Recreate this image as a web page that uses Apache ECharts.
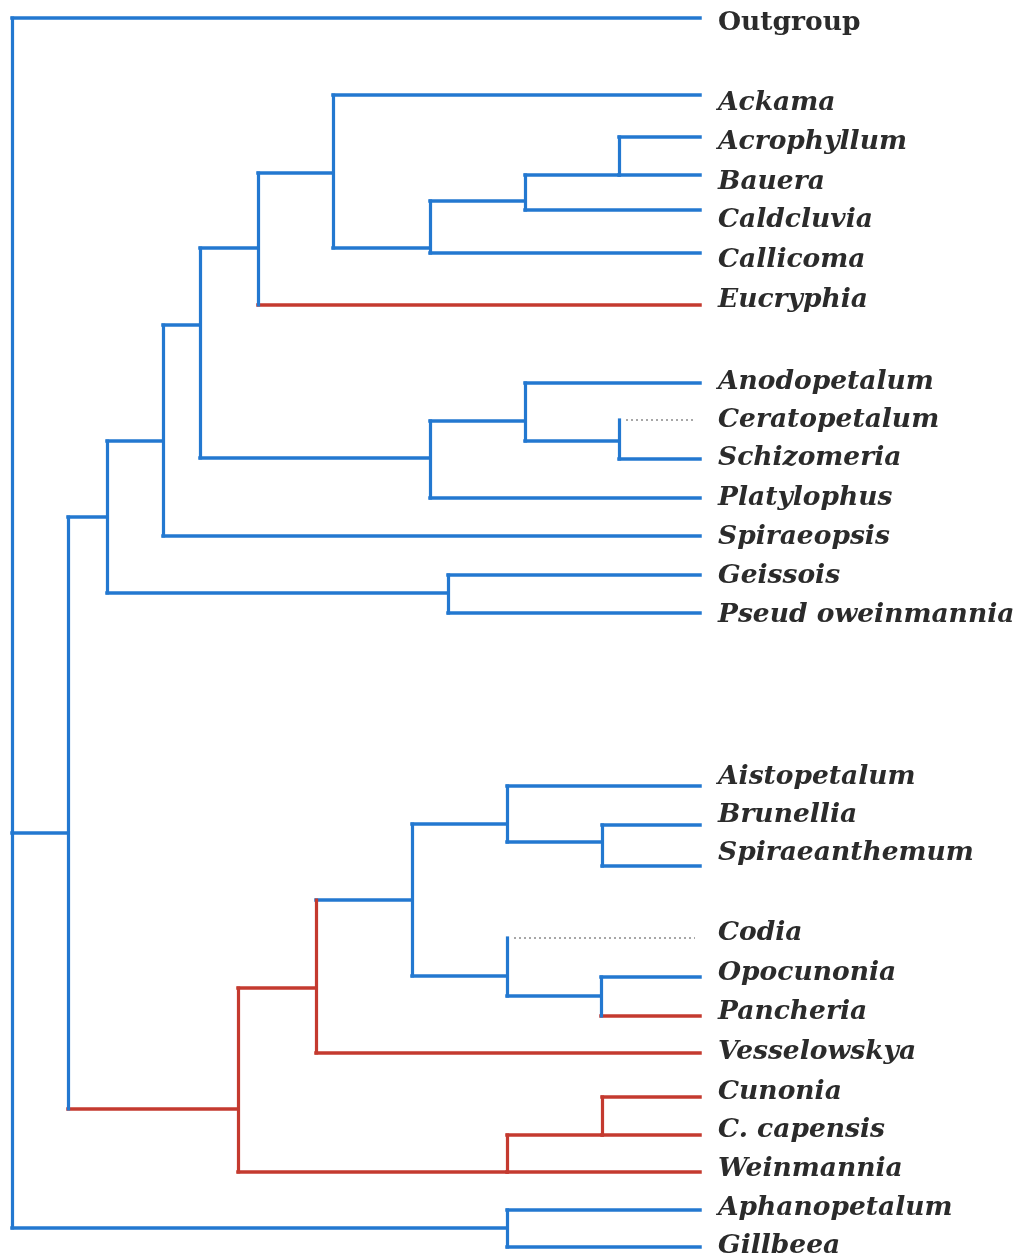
<!DOCTYPE html>
<html>
<head>
<meta charset="utf-8">
<script src="https://cdn.jsdelivr.net/npm/echarts@6/dist/echarts.min.js"></script>
<style>
html,body{margin:0;padding:0;background:#ffffff;}
#chart{width:1024px;height:1260px;}
</style>
</head>
<body>
<div id="chart"></div>
<script>
// ---- Terminal taxa (leaves) ----
const tipNames = ['Outgroup','Ackama','Acrophyllum','Bauera','Caldcluvia','Callicoma','Eucryphia',
  'Anodopetalum','Ceratopetalum','Schizomeria','Platylophus','Spiraeopsis','Geissois','Pseud oweinmannia',
  'Aistopetalum','Brunellia','Spiraeanthemum','Codia','Opocunonia','Pancheria','Vesselowskya',
  'Cunonia','C. capensis','Weinmannia','Aphanopetalum','Gillbeea'];
// vertical position of each leaf branch
const tipY = [18,95,137,175,210,253,305,383,420,459,498,536,575,613,786,825,866,938,977,1016,1053,1097,1135,1172,1210,1247];
// vertical position of each leaf label
const tipLabelY = [23,103,142,182,220,260,300,382,420,458,498,537,576,615,777,815,853,933,973,1012,1052,1092,1130,1169,1208,1246];
const tipParent = ['root','n333','n619a','n619a','n525a','n430a','n258','n525b','n619b','n619b','n430b','n163','n448','n448',
  'n507a','n602a','n602a','n507c','n601','n601','n316','n602w','n602w','n507w','n507g','n507g'];
// character state of leaf branch: 0 = blue, 1 = red
const tipState = [0,0,0,0,0,0,1,0,0,0,0,0,0,0,0,0,0,0,0,1,1,1,1,1,0,0];
// uncertain (dotted) leaf branches
const tipDotted = [0,0,0,0,0,0,0,0,1,0,0,0,0,0,0,0,0,1,0,0,0,0,0,0,0,0];
const tipDepth = 700;

// ---- Internal nodes ----
const nodeIds    = ['root','n68','n107','n163','n200','n258','n333','n430a','n525a','n619a','n430b','n525b','n619b','n448',
  'n238','n316','n412','n507a','n602a','n507c','n601','n507w','n602w','n507g'];
const nodeParent = [null,'root','n68','n107','n163','n200','n258','n333','n430a','n525a','n200','n430b','n525b','n107',
  'n68','n238','n316','n412','n507a','n412','n507c','n238','n507w','root'];
const nodeDepth  = [12,68,107,163,200,258,333,430,525,619,430,525,619,448,238,316,412,507,602,507,601,507,602,507];
const nodeJoinY  = [null,833,517,441,325,248,173,248,201,175,458,421,441,593,1109,988,900,824,842,976,996,1172,1135,1228];
const nodeStemState = [0,0,0,0,0,0,0,0,0,0,0,0,0,0,1,1,0,0,0,0,0,1,1,0];
const nodeVertState = [0,0,0,0,0,0,0,0,0,0,0,0,0,0,1,1,0,0,0,0,0,1,1,0];

// ---- Build segments ----
const COLORS = ['#2378d0', '#c43a2f'];
const idx = {};
nodeIds.forEach((id, i) => idx[id] = i);
const childY = nodeIds.map(() => []);
const segs = [];

nodeIds.forEach((id, i) => {
  const p = nodeParent[i];
  if (p === null) return;
  childY[idx[p]].push(nodeJoinY[i]);
  segs.push({ coords: [[nodeDepth[idx[p]], nodeJoinY[i]], [nodeDepth[i], nodeJoinY[i]]],
    lineStyle: { color: COLORS[nodeStemState[i]], width: 3.5, type: 'solid', cap: 'square', opacity: 1 } });
});
tipNames.forEach((n, i) => {
  const p = idx[tipParent[i]];
  childY[p].push(tipY[i]);
  if (tipDotted[i]) {
    segs.push({ coords: [[nodeDepth[p] + 7, tipY[i]], [tipDepth - 5, tipY[i]]],
      lineStyle: { color: '#8a8a8a', width: 1.5, type: [2, 3], cap: 'butt', opacity: 1 } });
  } else {
    segs.push({ coords: [[nodeDepth[p], tipY[i]], [tipDepth, tipY[i]]],
      lineStyle: { color: COLORS[tipState[i]], width: 3.5, type: 'solid', cap: 'square', opacity: 1 } });
  }
});
nodeIds.forEach((id, i) => {
  const ys = childY[i];
  segs.push({ coords: [[nodeDepth[i], Math.min.apply(null, ys)], [nodeDepth[i], Math.max.apply(null, ys)]],
    lineStyle: { color: COLORS[nodeVertState[i]], width: 3.2, type: 'solid', cap: 'square', opacity: 1 } });
});

const labelData = tipNames.map((n, i) => ({
  name: n,
  value: [tipDepth, tipLabelY[i]],
  label: { fontStyle: i === 0 ? 'normal' : 'italic' }
}));

const chart = echarts.init(document.getElementById('chart'), null, { renderer: 'canvas' });
chart.setOption({
  backgroundColor: '#ffffff',
  animation: false,
  grid: { left: 0, right: 0, top: 0, bottom: 0 },
  xAxis: { type: 'value', min: 0, max: 1024, show: false },
  yAxis: { type: 'value', min: 0, max: 1260, inverse: true, show: false },
  series: [
    { type: 'lines', coordinateSystem: 'cartesian2d', polyline: false, silent: true, z: 2,
      symbol: 'none', lineStyle: { opacity: 1 },
      data: segs },
    { type: 'scatter', symbolSize: 0, silent: true, z: 3,
      itemStyle: { opacity: 1 },
      data: labelData,
      label: { show: true, position: 'right', distance: 18, formatter: '{b}', opacity: 1,
        fontFamily: '"DejaVu Serif", "Liberation Serif", serif', fontSize: 26.5, fontWeight: 'bold', color: '#2b2b2b' } }
  ]
});
</script>
</body>
</html>
